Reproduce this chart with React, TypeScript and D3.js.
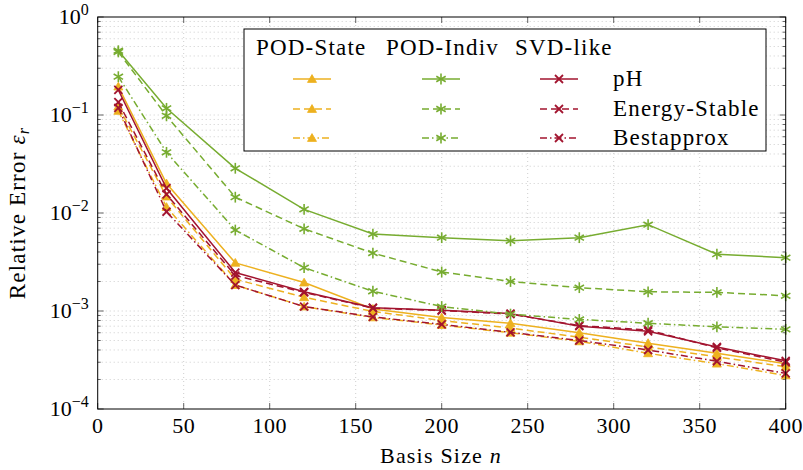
import React from "react";
import * as d3 from "d3";

// ---------- data ----------
const basisSizes = [12, 40, 80, 120, 160, 200, 240, 280, 320, 360, 400];

const podStatePH = [0.195, 0.02, 0.0031, 0.00195, 0.00105, 0.00086, 0.00075, 0.0006, 0.00047, 0.00037, 0.00029];
const podStateEnergy = [0.122, 0.0147, 0.00211, 0.00138, 0.00099, 0.0008, 0.00067, 0.00054, 0.00043, 0.00034, 0.00027];
const podStateBest = [0.11, 0.0115, 0.00184, 0.00111, 0.00086, 0.00072, 0.0006, 0.00049, 0.00037, 0.00029, 0.00022];

const podIndivPH = [0.453, 0.117, 0.0286, 0.0109, 0.0061, 0.0056, 0.0052, 0.0056, 0.0076, 0.0038, 0.0035];
const podIndivEnergy = [0.44, 0.098, 0.0145, 0.0069, 0.0039, 0.0025, 0.002, 0.00173, 0.00157, 0.00155, 0.00143];
const podIndivBest = [0.246, 0.0416, 0.0067, 0.00277, 0.00159, 0.00111, 0.00093, 0.00082, 0.00075, 0.00069, 0.00065];

const svdPH = [0.18, 0.0179, 0.00247, 0.00157, 0.00108, 0.00102, 0.00094, 0.0007, 0.00062, 0.00043, 0.00031];
const svdEnergy = [0.135, 0.0155, 0.0023, 0.00155, 0.00107, 0.00101, 0.00093, 0.00071, 0.00064, 0.00042, 0.0003];
const svdBest = [0.118, 0.0103, 0.00184, 0.00111, 0.00087, 0.00073, 0.000605, 0.0005, 0.0004, 0.000307, 0.000231];

const methodNames = ["POD-State", "POD-Indiv", "SVD-like"];
const variantNames = ["pH", "Energy-Stable", "Bestapprox"];
const xTickValues = [0, 50, 100, 150, 200, 250, 300, 350, 400];
const yDecadeExponents = [0, -1, -2, -3, -4];

// ---------- styles ----------
const COLORS = { orange: "#EDB120", green: "#77AC30", red: "#A2142F" };
const DASHES = ["", "7,4", "7,3,1.5,3"];
const FONT = '"Liberation Serif", "DejaVu Serif", "Times New Roman", Times, serif';

type MarkerKind = "triangle" | "asterisk" | "cross";

const seriesDefs = [
  { values: podStatePH, color: COLORS.orange, marker: "triangle" as MarkerKind, dash: 0 },
  { values: podStateEnergy, color: COLORS.orange, marker: "triangle" as MarkerKind, dash: 1 },
  { values: podStateBest, color: COLORS.orange, marker: "triangle" as MarkerKind, dash: 2 },
  { values: svdPH, color: COLORS.red, marker: "cross" as MarkerKind, dash: 0 },
  { values: svdEnergy, color: COLORS.red, marker: "cross" as MarkerKind, dash: 1 },
  { values: svdBest, color: COLORS.red, marker: "cross" as MarkerKind, dash: 2 },
  { values: podIndivPH, color: COLORS.green, marker: "asterisk" as MarkerKind, dash: 0 },
  { values: podIndivEnergy, color: COLORS.green, marker: "asterisk" as MarkerKind, dash: 1 },
  { values: podIndivBest, color: COLORS.green, marker: "asterisk" as MarkerKind, dash: 2 },
];

function Marker({ kind, cx, cy, color }: { kind: MarkerKind; cx: number; cy: number; color: string }) {
  if (kind === "triangle") {
    const r = 5.2;
    const pts = [0, 1, 2]
      .map((i) => {
        const a = -Math.PI / 2 + (i * 2 * Math.PI) / 3;
        return `${cx + r * Math.cos(a)},${cy + r * Math.sin(a) + 0.8}`;
      })
      .join(" ");
    return <polygon points={pts} fill={color} stroke={color} strokeWidth={0.8} />;
  }
  if (kind === "asterisk") {
    const r = 5.4;
    return (
      <g stroke={color} strokeWidth={1.6}>
        {[90, 30, 150].map((deg) => {
          const a = (deg * Math.PI) / 180;
          return (
            <line key={deg} x1={cx - r * Math.cos(a)} y1={cy - r * Math.sin(a)} x2={cx + r * Math.cos(a)} y2={cy + r * Math.sin(a)} />
          );
        })}
      </g>
    );
  }
  const r = 4;
  return (
    <g stroke={color} strokeWidth={1.8}>
      <line x1={cx - r} y1={cy - r} x2={cx + r} y2={cy + r} />
      <line x1={cx - r} y1={cy + r} x2={cx + r} y2={cy - r} />
    </g>
  );
}

export default function App() {
  const left = 97.7, right = 785.7, top = 17, bottom = 409;
  const x = d3.scaleLinear().domain([0, 400]).range([left, right]);
  const y = d3.scaleLog().domain([1e-4, 1]).range([bottom, top]);

  const line = d3
    .line<[number, number]>()
    .x((d) => x(d[0]))
    .y((d) => y(d[1]));

  const minorY: number[] = [];
  for (let e = -4; e < 0; e++) {
    for (let k = 2; k <= 9; k++) minorY.push(k * Math.pow(10, e));
  }

  const gridStyle = { stroke: "#c8c8c8", strokeWidth: 0.9, strokeDasharray: "1,3" };

  const legendBox = { x: 244, y: 29, w: 522, h: 122 };
  const headerX = [256, 386, 515];
  const sampleCenters = [312, 441, 559];
  const rowY = [79, 109, 138];
  const legendMethods = [
    { color: COLORS.orange, marker: "triangle" as MarkerKind },
    { color: COLORS.green, marker: "asterisk" as MarkerKind },
    { color: COLORS.red, marker: "cross" as MarkerKind },
  ];

  const textStyle = { fontFamily: FONT };
  const LS = 1.2;

  return (
    <svg width={803} height={470} style={{ position: "absolute", left: 0, top: 0, background: "#fff", fontFamily: FONT }}>
      {/* grid */}
      <g>
        {minorY.map((v, i) => (
          <line key={"mg" + i} x1={left} x2={right} y1={y(v)} y2={y(v)} {...gridStyle} />
        ))}
        {yDecadeExponents.slice(1, 4).map((e) => (
          <line key={"yg" + e} x1={left} x2={right} y1={y(Math.pow(10, e))} y2={y(Math.pow(10, e))} {...gridStyle} />
        ))}
        {xTickValues.slice(1, -1).map((t) => (
          <line key={"xg" + t} x1={x(t)} x2={x(t)} y1={top} y2={bottom} {...gridStyle} />
        ))}
      </g>

      {/* ticks */}
      <g stroke="#555" strokeWidth={0.9}>
        {minorY.map((v, i) => (
          <g key={"mt" + i}>
            <line x1={left} x2={left + 3} y1={y(v)} y2={y(v)} />
            <line x1={right} x2={right - 3} y1={y(v)} y2={y(v)} />
          </g>
        ))}
        {yDecadeExponents.map((e) => (
          <g key={"Mt" + e}>
            <line x1={left} x2={left + 6} y1={y(Math.pow(10, e))} y2={y(Math.pow(10, e))} />
            <line x1={right} x2={right - 6} y1={y(Math.pow(10, e))} y2={y(Math.pow(10, e))} />
          </g>
        ))}
        {xTickValues.map((t) => (
          <g key={"xt" + t}>
            <line x1={x(t)} x2={x(t)} y1={bottom} y2={bottom - 6} />
            <line x1={x(t)} x2={x(t)} y1={top} y2={top + 6} />
          </g>
        ))}
      </g>

      {/* series */}
      <g>
        {seriesDefs.map((s, i) => {
          const pts = basisSizes.map((n, j) => [n, s.values[j]] as [number, number]);
          return (
            <g key={"s" + i}>
              <path d={line(pts) || ""} fill="none" stroke={s.color} strokeWidth={1.5} strokeDasharray={DASHES[s.dash]} />
              {pts.map((p, j) => (
                <Marker key={j} kind={s.marker} cx={x(p[0])} cy={y(p[1])} color={s.color} />
              ))}
            </g>
          );
        })}
      </g>

      {/* axis box */}
      <rect x={left} y={top} width={right - left} height={bottom - top} fill="none" stroke="#000" strokeWidth={1} />

      {/* tick labels */}
      <g fontSize={22} fill="#000">
        {xTickValues.map((t) => (
          <text key={"xl" + t} x={x(t)} y={bottom + 24} textAnchor="middle" letterSpacing={0.5} style={textStyle}>
            {t}
          </text>
        ))}
        {yDecadeExponents.map((e) => (
          <text key={"yl" + e} x={left - 9} y={y(Math.pow(10, e)) + 7} textAnchor="end" style={textStyle}>
            10
            <tspan fontSize={16} dy={-9}>
              {e === 0 ? "0" : "\u2212" + Math.abs(e)}
            </tspan>
          </text>
        ))}
      </g>

      {/* axis labels */}
      <text x={441} y={463} textAnchor="middle" fontSize={22} letterSpacing={LS} style={textStyle}>
        Basis Size <tspan fontStyle="italic">n</tspan>
      </text>
      <text
        transform={`translate(25,${(top + bottom) / 2}) rotate(-90)`}
        textAnchor="middle"
        fontSize={23}
        letterSpacing={LS}
        style={textStyle}
      >
        Relative Error <tspan fontStyle="italic">ε</tspan>
        <tspan fontStyle="italic" fontSize={16} dy={4}>
          r
        </tspan>
      </text>

      {/* legend */}
      <g>
        <rect x={legendBox.x} y={legendBox.y} width={legendBox.w} height={legendBox.h} fill="#fff" stroke="#000" strokeWidth={1} />
        {methodNames.map((name, i) => (
          <text key={"h" + i} x={headerX[i]} y={55} fontSize={23} letterSpacing={LS} style={textStyle}>
            {name}
          </text>
        ))}
        {variantNames.map((name, r) => (
          <g key={"r" + r}>
            {legendMethods.map((m, c) => (
              <g key={c}>
                <line
                  x1={sampleCenters[c] - 19}
                  x2={sampleCenters[c] + 19}
                  y1={rowY[r]}
                  y2={rowY[r]}
                  stroke={m.color}
                  strokeWidth={1.5}
                  strokeDasharray={DASHES[r]}
                />
                <Marker kind={m.marker} cx={sampleCenters[c]} cy={rowY[r]} color={m.color} />
              </g>
            ))}
            <text x={613} y={rowY[r] + 7} fontSize={23} letterSpacing={LS} style={textStyle}>
              {name}
            </text>
          </g>
        ))}
      </g>
    </svg>
  );
}
